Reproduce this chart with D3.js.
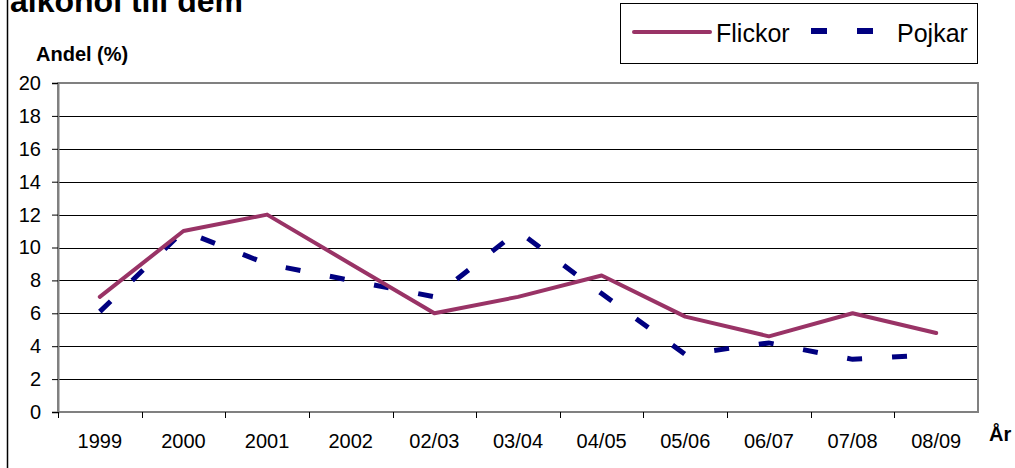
<!DOCTYPE html>
<html>
<head>
<meta charset="utf-8">
<script src="https://cdn.jsdelivr.net/npm/d3@7"></script>
<style>
  body { margin: 0; background: #fff; }
  svg { font-family: "Liberation Sans", Arial, sans-serif; }
</style>
</head>
<body>
<svg id="chart" width="1015" height="468"></svg>
<script>
// data
const years = ['1999', '2000', '2001', '2002', '02/03', '03/04', '04/05', '05/06', '06/07', '07/08', '08/09'];
const flickor = [7, 11, 12, 9, 6, 7, 8.3, 5.8, 4.6, 6, 4.8];
const pojkar = [6.1, 11, 9, 8, 7, 11, 7.2, 3.5, 4.2, 3.2, 3.5];
const yTicks = [0, 2, 4, 6, 8, 10, 12, 14, 16, 18, 20];

const svg = d3.select('#chart');
const plot = {left: 58, right: 978, top: 83, bottom: 412};
const font = '"Liberation Sans", Arial, sans-serif';

const x = d3.scaleBand().domain(years).range([plot.left, plot.right]);
const y = d3.scaleLinear().domain([0, 20]).range([plot.bottom, plot.top]);

// outer frame line on the left
svg.append('line')
    .attr('x1', 7.5).attr('x2', 7.5).attr('y1', 0).attr('y2', 468)
    .attr('stroke', '#000').attr('stroke-width', 1.5);

// title, cut off at the top like in the original
svg.append('text')
    .attr('x', 10).attr('y', 12)
    .attr('font-size', 32).attr('font-weight', 'bold')
    .text('alkohol till dem');

// gridlines
svg.append('g')
    .selectAll('line')
    .data(yTicks.slice(1, -1))
    .enter().append('line')
    .attr('x1', plot.left).attr('x2', plot.right)
    .attr('y1', d => Math.round(y(d)) + 0.5).attr('y2', d => Math.round(y(d)) + 0.5)
    .attr('stroke', '#000').attr('stroke-width', 1);

// plot border (gray)
svg.append('rect')
    .attr('x', plot.left).attr('y', plot.top)
    .attr('width', plot.right - plot.left).attr('height', plot.bottom - plot.top)
    .attr('fill', 'none').attr('stroke', '#808080').attr('stroke-width', 2);

// y axis
const yAxis = svg.append('g')
    .attr('transform', 'translate(' + plot.left + ',0)')
    .call(d3.axisLeft(y).tickValues(yTicks).tickSize(6).tickPadding(11));
yAxis.select('.domain').attr('stroke', '#808080').attr('stroke-width', 2);
yAxis.selectAll('.tick line').attr('stroke', '#000');
yAxis.selectAll('text').attr('font-size', 20).attr('fill', '#000')
    .attr('font-family', font);

// x axis, ticks between categories
const xAxis = svg.append('g')
    .attr('transform', 'translate(0,' + plot.bottom + ')')
    .call(d3.axisBottom(x).tickSize(0).tickPadding(22));
xAxis.select('.domain').remove();
xAxis.selectAll('text').attr('font-size', 20).attr('fill', '#000')
    .attr('font-family', font);
xAxis.selectAll('.sep')
    .data(years.slice(1))
    .enter().append('line')
    .attr('class', 'sep')
    .attr('x1', d => Math.round(x(d)) + 0.5).attr('x2', d => Math.round(x(d)) + 0.5)
    .attr('y1', 0).attr('y2', 6)
    .attr('stroke', '#000');
xAxis.append('line')
    .attr('x1', plot.left + 0.5).attr('x2', plot.left + 0.5)
    .attr('y1', 0).attr('y2', 6).attr('stroke', '#000');

// lines
const line = d3.line()
    .x((d, i) => x(years[i]) + x.bandwidth() / 2)
    .y(d => y(d));

svg.append('path')
    .datum(pojkar)
    .attr('d', line)
    .attr('fill', 'none')
    .attr('stroke', '#000080')
    .attr('stroke-width', 5)
    .attr('stroke-dasharray', '15,30');

svg.append('path')
    .datum(flickor)
    .attr('d', line)
    .attr('fill', 'none')
    .attr('stroke', '#993366')
    .attr('stroke-width', 4)
    .attr('stroke-linejoin', 'round')
    .attr('stroke-linecap', 'round');

// axis titles
svg.append('text')
    .attr('x', 36).attr('y', 61)
    .attr('font-size', 20).attr('font-weight', 'bold')
    .text('Andel (%)');
svg.append('text')
    .attr('x', 989).attr('y', 441)
    .attr('font-size', 20).attr('font-weight', 'bold')
    .text('År');

// legend
const legend = svg.append('g');
legend.append('rect')
    .attr('x', 620.5).attr('y', 3.5).attr('width', 357).attr('height', 60)
    .attr('fill', '#fff').attr('stroke', '#000').attr('stroke-width', 1);
legend.append('line')
    .attr('x1', 634).attr('x2', 710).attr('y1', 32).attr('y2', 32)
    .attr('stroke', '#993366').attr('stroke-width', 4).attr('stroke-linecap', 'round');
legend.append('text')
    .attr('x', 716).attr('y', 42).attr('font-size', 25).text('Flickor');
legend.append('line')
    .attr('x1', 811).attr('x2', 873).attr('y1', 31).attr('y2', 31)
    .attr('stroke', '#000080').attr('stroke-width', 6).attr('stroke-dasharray', '16,30');
legend.append('text')
    .attr('x', 897).attr('y', 42).attr('font-size', 25).text('Pojkar');
</script>
</body>
</html>
